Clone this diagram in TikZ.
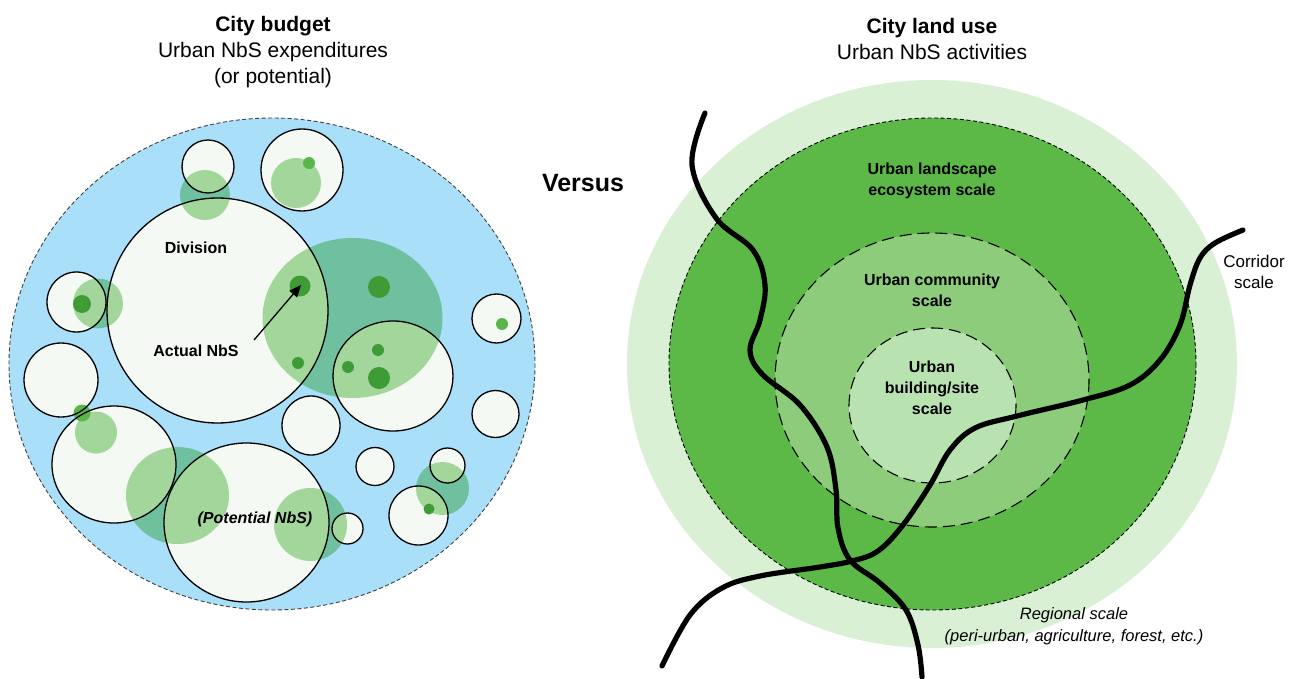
\documentclass[tikz,border=0pt]{standalone}
\usepackage{fontspec}
\setmainfont{Liberation Sans}
\usetikzlibrary{arrows.meta}

\definecolor{budgetblue}{HTML}{A9DFF9}
\definecolor{unitwhite}{HTML}{F4F9F4}
\definecolor{blobgreen}{HTML}{A3D69A}
\definecolor{blobteal}{HTML}{6FC09F}
\definecolor{dotdark}{HTML}{3E9B36}
\definecolor{dotmid}{HTML}{5AB64B}
\definecolor{regionfill}{HTML}{D9F0D5}
\definecolor{landscapefill}{HTML}{5CB947}
\definecolor{communityfill}{HTML}{8DCC7B}
\definecolor{sitefill}{HTML}{B8E3B1}

\newcommand\budgetunits{208/166.5/26/26.5, 302/170/41/41, 217.5/310.5/110.5/112.5,
	393/376/60/55, 496.5/318.5/24.5/24.5, 76.5/302/29.5/30, 61/380/37/37,
	114/464.5/62/58.5, 246.5/522.5/82.5/79.5, 347.5/528.5/15.5/15.5,
	311/425.5/29/29.5, 375/466.5/19/19, 495.5/414/23.5/23.5,
	447.5/465.5/17.5/17.5, 418.5/515.5/29.5/29.5}
\newcommand\budgetblobs{205/195/25/25, 296/183/25/25, 352.5/318/90/80,
	98/303.5/25/25, 96/432.5/21/21, 177.5/495.5/51.5/48.5,
	310.5/524.5/36.5/36.5, 442.5/488.5/26.5/26.5}

\begin{document}
\begin{tikzpicture}[x=1pt, y=-1pt,
		heading/.style={align=center, font=\fontsize{21}{26}\selectfont},
		inlabel/.style={align=center, font=\bfseries\fontsize{16}{21}\selectfont},
		outlabel/.style={align=center, font=\fontsize{17}{21}\selectfont},
		unitline/.style={draw=black, line width=1.3pt},
		rimdash/.style={draw=black!75, line width=0.9pt, dash pattern=on 4pt off 2.5pt},
		ringdash/.style={draw=black, line width=1.1pt, dash pattern=on 12pt off 6pt},
		road/.style={draw=black, line width=5.2pt, line cap=round, line join=round}]

	\useasboundingbox (0,0) rectangle (1303,679);

	% city budget
	\fill[budgetblue] (272,364) ellipse [x radius=263, y radius=246];
	\foreach \x/\y/\a/\b in \budgetblobs
		\fill[blobteal] (\x,\y) ellipse [x radius=\a, y radius=\b];
	\foreach \x/\y/\a/\b in \budgetunits
		\fill[unitwhite] (\x,\y) ellipse [x radius=\a, y radius=\b];
	\foreach \x/\y/\a/\b in \budgetunits {
		\begin{scope}
			\clip (\x,\y) ellipse [x radius=\a, y radius=\b];
			\foreach \u/\v/\c/\d in \budgetblobs
				\fill[blobgreen] (\u,\v) ellipse [x radius=\c, y radius=\d];
		\end{scope}
	}
	\foreach \x/\y/\r/\c in {300/286/10.5/dotdark, 379/287/11/dotdark, 298/363/6/dotdark,
			378/350/6/dotdark, 348/367/6/dotdark, 379/378/11/dotdark, 82/304/9/dotdark,
			309/163/6/dotmid, 82/413/8.5/dotmid, 502/324/6/dotmid, 429/509/5.5/dotdark}
		\fill[\c] (\x,\y) circle [radius=\r];
	\foreach \x/\y/\a/\b in \budgetunits
		\draw[unitline] (\x,\y) ellipse [x radius=\a, y radius=\b];
	\draw[rimdash] (272,364) ellipse [x radius=263, y radius=246];

	\node[heading] (budgettitle) at (273,52) {\textbf{City budget}\\Urban NbS expenditures\\(or potential)};
	\node[inlabel] (division) at (196,248) {Division};
	\node[inlabel] (actual) at (196,351) {Actual NbS};
	\node[inlabel, font=\bfseries\itshape\fontsize{16}{21}\selectfont] (potential) at (255,519) {(Potential NbS)};
	\coordinate (actualtail) at (254,340);
	\coordinate (actualdot) at (301,285);
	\draw[-{Triangle[length=12pt, width=10pt]}, line width=1.3pt] (actualtail) -- (actualdot);

	\node[font=\bfseries\fontsize{25}{30}\selectfont] (versus) at (583,183) {Versus};

	% city land use
	\fill[regionfill] (932,364) ellipse [x radius=305, y radius=284];
	\fill[landscapefill] (932.5,364) ellipse [x radius=263.5, y radius=246];
	\draw[rimdash, draw=black] (932.5,364) ellipse [x radius=263.5, y radius=246];
	\path[fill=communityfill, ringdash] (932,380) ellipse [x radius=157, y radius=147];
	\path[fill=sitefill, ringdash] (932.5,405.5) ellipse [x radius=83.5, y radius=77.5];

	\draw[road] plot[smooth, tension=0.6] coordinates {(705,113) (692,165) (716,218) (753,250)
		(765,285) (760,320) (750,350) (762,374) (800,405) (827,447) (836,490) (838,528)
		(850,560) (880,583) (906,610) (918,645) (922,677)};
	\draw[road] plot[smooth, tension=0.6] coordinates {(662,666) (690,615) (722,588) (760,576)
		(820,567) (852,561) (878,551) (903,525) (930,485) (950,450) (975,428) (1017,416)
		(1083,400) (1130,385) (1160,360) (1180,325) (1190,285) (1200,258) (1215,243) (1243,230)};

	\node[heading] (landtitle) at (932,38.5) {\textbf{City land use}\\Urban NbS activities};
	\node[inlabel] (landscape) at (932,180.5) {Urban landscape\\ecosystem scale};
	\node[inlabel] (community) at (932,290.5) {Urban community\\scale};
	\node[inlabel] (site) at (932,388) {Urban\\building/site\\scale};
	\node[outlabel] (corridor) at (1254,272) {Corridor\\scale};
	\node[outlabel, font=\itshape\fontsize{16.5}{22}\selectfont] (regional) at (1074,626) {Regional scale\\(peri-urban, agriculture, forest, etc.)};
\end{tikzpicture}
\end{document}
